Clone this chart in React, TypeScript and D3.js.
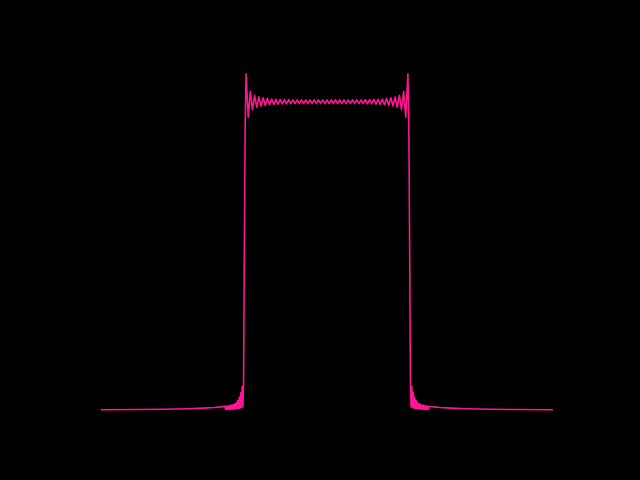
import * as d3 from 'd3'
import { useEffect, useRef } from 'react'

type Pt = [number, number]

// left tail: flat baseline, then dense small ripple under a rising envelope
const leftTail: Pt[] = [
  [0, 0.001], [80, 0.0015], [140, 0.0025], [190, 0.004], [225, 0.006],
  [250, 0.008], [265, 0.01],
  [274, 0.012], [275.6, 0.002], [277.2, 0.012], [278.8, 0.002], [280.4, 0.013],
  [282, 0.002], [283.6, 0.014], [285.2, 0.002], [286.8, 0.015], [288.4, 0.003],
  [290, 0.016], [291.6, 0.003], [293.2, 0.018], [294.8, 0.003], [296.4, 0.02],
  [298, 0.004], [299.6, 0.024], [301.2, 0.004], [302.8, 0.031], [304.4, 0.005],
  [306, 0.041], [307.6, 0.006], [309.2, 0.056], [310.8, 0.008], [312.4, 0.076],
  [314, 0.01], [315.5, 0.1], [317, 0.5], [319, 0.93]
]

// plateau extremes, evenly spaced from the left spike to the right spike
const plateauStart = 321
const plateauStep = 4.71
const plateau = [
  1.091, 0.95, 1.034, 0.974, 1.021, 0.982, 1.016, 0.986, 1.013, 0.988,
  1.011, 0.99, 1.009, 0.991, 1.008, 0.992, 1.008, 0.993, 1.007, 0.993,
  1.007, 0.994, 1.006, 0.994, 1.006, 0.994, 1.006, 0.994, 1.006, 0.994,
  1.006, 0.994, 1.006, 0.994, 1.006, 0.994, 1.006, 0.994, 1.006, 0.994,
  1.006, 0.994, 1.006, 0.994, 1.006, 0.994, 1.006, 0.994, 1.006, 0.994,
  1.006, 0.994, 1.006, 0.994, 1.006, 0.994, 1.007, 0.993, 1.007, 0.993,
  1.008, 0.992, 1.008, 0.991, 1.009, 0.99, 1.011, 0.988, 1.013, 0.986,
  1.016, 0.982, 1.021, 0.974, 1.034, 0.95, 1.091
]

const rightTail: Pt[] = [
  [681, 0.93], [683, 0.5], [684.5, 0.1], [686, 0.01], [687.6, 0.076],
  [689.2, 0.008], [690.8, 0.056], [692.4, 0.006], [694, 0.041], [695.6, 0.005],
  [697.2, 0.031], [698.8, 0.004], [700.4, 0.024], [702, 0.004], [703.6, 0.02],
  [705.2, 0.003], [706.8, 0.018], [708.4, 0.003], [710, 0.016], [711.6, 0.003],
  [713.2, 0.015], [714.8, 0.002], [716.4, 0.014], [718, 0.002], [719.6, 0.013],
  [721.2, 0.002], [722.8, 0.012], [724.4, 0.002], [726, 0.012],
  [735, 0.01], [750, 0.008], [775, 0.006], [810, 0.004], [860, 0.0025],
  [920, 0.0015], [1000, 0.001]
]

export default function App() {
  const svgRef = useRef<SVGSVGElement | null>(null)

  useEffect(() => {
    if (!svgRef.current) return
    document.body.style.margin = '0'

    const width = 640
    const height = 480

    d3.select(svgRef.current).selectAll('*').remove()
    const svg = d3
      .select(svgRef.current)
      .attr('width', width)
      .attr('height', height)

    svg
      .append('rect')
      .attr('width', width)
      .attr('height', height)
      .attr('fill', '#000')

    const data: Pt[] = [
      ...leftTail,
      ...plateau.map((v, i) => [plateauStart + i * plateauStep, v] as Pt),
      ...rightTail
    ]

    const xScale = d3.scaleLinear().domain([0, 1000]).range([101, 553])
    const yScale = d3.scaleLinear().domain([0, 1.09]).range([410, 74])

    const line = d3
      .line<Pt>()
      .x(d => xScale(d[0]))
      .y(d => yScale(d[1]))

    svg
      .append('path')
      .datum(data)
      .attr('fill', 'none')
      .attr('stroke', '#ff1493')
      .attr('stroke-width', 1.6)
      .attr('stroke-linejoin', 'round')
      .attr('d', line)
  }, [])

  return (
    <div style={{ position: 'absolute', left: 0, top: 0, width: 640, height: 480, background: '#000' }}>
      <svg ref={svgRef} style={{ display: 'block' }} />
    </div>
  )
}
